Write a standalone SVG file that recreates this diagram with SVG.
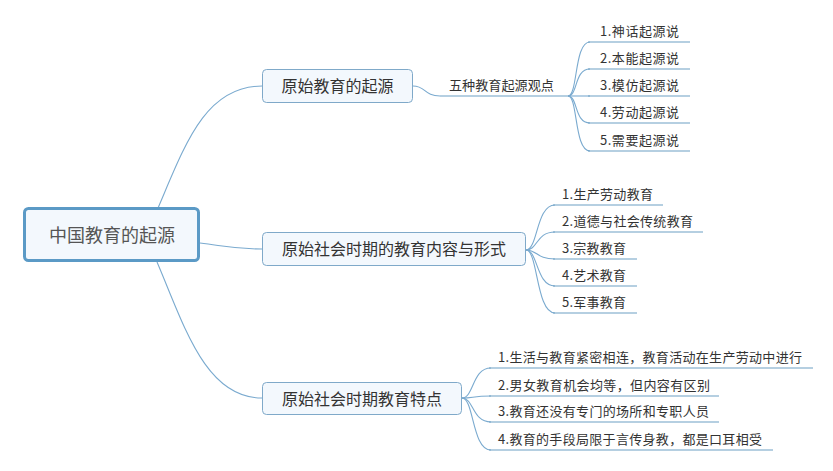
<svg xmlns="http://www.w3.org/2000/svg" width="833" height="471" viewBox="0 0 833 471">
<style>
.bg{fill:#ffffff}
.root{fill:#f3f8fd;stroke:#5b9ac6;stroke-width:3}
.br{fill:#f3f8fd;stroke:#7fa9c9;stroke-width:1}
.c{fill:none;stroke:#7aaacf;stroke-width:1.1}
.u{fill:none;stroke:#6d9fc4;stroke-width:1.2}
text{font-family:"Noto Sans CJK SC","Noto Sans",sans-serif;fill:#333}
.tr{font-size:18px;fill:#555;text-anchor:middle}
.tb{font-size:16px;text-anchor:middle}
.ti{font-size:13px}
</style>
<rect class="bg" x="0" y="0" width="833" height="471"/>
<g id="connectors">
<path class="c" d="M158,208 C185,145 205,86 262,86"/>
<path class="c" d="M200,243 C230,247 235,249 262,249"/>
<path class="c" d="M157,262 C184,325 205,398 262,398"/>
<path class="c" d="M413,86 C426,86 424,96 440,96"/>
<path class="u" d="M440,96 L568,96"/>
<path class="c" d="M568,96 C578,96 574,42 590,42"/>
<path class="c" d="M568,96 C578,96 574,69 590,69"/>
<path class="c" d="M568,96 L590,96"/>
<path class="c" d="M568,96 C578,96 574,123 590,123"/>
<path class="c" d="M568,96 C578,96 574,151 590,151"/>
<path class="u" d="M588,42 L690,42 M588,69 L690,69 M588,96 L690,96 M588,123 L690,123 M588,151 L690,151"/>
<path class="c" d="M526,250 C538,250 536,205 555,205"/>
<path class="c" d="M526,250 C538,250 536,232 555,232"/>
<path class="c" d="M526,250 C538,250 536,259 555,259"/>
<path class="c" d="M526,250 C538,250 536,286 555,286"/>
<path class="c" d="M526,250 C538,250 536,313 555,313"/>
<path class="u" d="M553,205 L663,205 M553,232 L703,232 M553,259 L637,259 M553,286 L637,286 M553,313 L637,313"/>
<path class="c" d="M462,398 C474,398 472,368 491,368"/>
<path class="c" d="M462,398 C474,398 472,396 491,396"/>
<path class="c" d="M462,398 C474,398 472,422 491,422"/>
<path class="c" d="M462,398 C474,398 472,450 491,450"/>
<path class="u" d="M489,368 L813,368 M489,396 L719,396 M489,422 L719,422 M489,450 L773,450"/>
</g>
<g id="root">
<rect class="root" x="24.5" y="208.5" width="174" height="52" rx="4"/>
<text class="tr" x="112" y="242">中国教育的起源</text>
</g>
<g id="b1">
<rect class="br" x="262.5" y="69.5" width="150" height="33" rx="4"/>
<text class="tb" x="337.5" y="92">原始教育的起源</text>
</g>
<g id="b1-sub">
<text class="ti" x="449" y="90" textLength="105" lengthAdjust="spacingAndGlyphs">五种教育起源观点</text>
</g>
<g id="b1-items">
<text class="ti" x="600" y="35.5" textLength="79">1.神话起源说</text>
<text class="ti" x="600" y="62.5" textLength="79">2.本能起源说</text>
<text class="ti" x="600" y="89.5" textLength="79">3.模仿起源说</text>
<text class="ti" x="600" y="116.5" textLength="79">4.劳动起源说</text>
<text class="ti" x="600" y="144.5" textLength="79">5.需要起源说</text>
</g>
<g id="b2">
<rect class="br" x="262.5" y="232.5" width="263" height="33" rx="4"/>
<text class="tb" x="394" y="255">原始社会时期的教育内容与形式</text>
</g>
<g id="b2-items">
<text class="ti" x="562" y="198.5" textLength="91">1.生产劳动教育</text>
<text class="ti" x="562" y="225.5" textLength="131">2.道德与社会传统教育</text>
<text class="ti" x="562" y="252.5" textLength="64">3.宗教教育</text>
<text class="ti" x="562" y="279.5" textLength="64">4.艺术教育</text>
<text class="ti" x="562" y="306.5" textLength="64">5.军事教育</text>
</g>
<g id="b3">
<rect class="br" x="262.5" y="382.5" width="199" height="32" rx="4"/>
<text class="tb" x="362" y="404.5">原始社会时期教育特点</text>
</g>
<g id="b3-items">
<text class="ti" x="498" y="361.5" textLength="304">1.生活与教育紧密相连，教育活动在生产劳动中进行</text>
<text class="ti" x="498" y="389.5" textLength="212">2.男女教育机会均等，但内容有区别</text>
<text class="ti" x="498" y="415.5" textLength="211">3.教育还没有专门的场所和专职人员</text>
<text class="ti" x="498" y="443.5" textLength="264">4.教育的手段局限于言传身教，都是口耳相受</text>
</g>
</svg>
